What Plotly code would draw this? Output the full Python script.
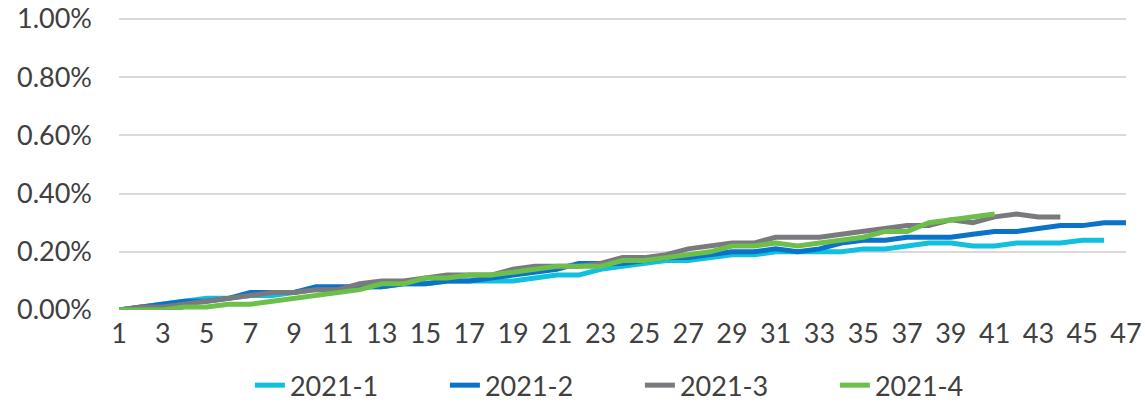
import plotly.graph_objects as go

weeks = list(range(1, 48))

s2021_1 = [0, 0.01, 0.02, 0.03, 0.04, 0.04, 0.05, 0.05, 0.06, 0.07, 0.07, 0.08, 0.08, 0.09, 0.09,
           0.10, 0.10, 0.10, 0.10, 0.11, 0.12, 0.12, 0.14, 0.15, 0.16, 0.17, 0.17, 0.18, 0.19, 0.19,
           0.20, 0.20, 0.20, 0.20, 0.21, 0.21, 0.22, 0.23, 0.23, 0.22, 0.22, 0.23, 0.23, 0.23, 0.24, 0.24]
s2021_2 = [0, 0.01, 0.02, 0.03, 0.03, 0.04, 0.06, 0.06, 0.06, 0.08, 0.08, 0.08, 0.08, 0.09, 0.09,
           0.10, 0.10, 0.11, 0.12, 0.13, 0.14, 0.16, 0.16, 0.16, 0.17, 0.18, 0.18, 0.19, 0.20, 0.20,
           0.21, 0.20, 0.21, 0.23, 0.24, 0.24, 0.25, 0.25, 0.25, 0.26, 0.27, 0.27, 0.28, 0.29, 0.29,
           0.30, 0.30]
s2021_3 = [0, 0.01, 0.01, 0.02, 0.03, 0.04, 0.05, 0.06, 0.06, 0.07, 0.07, 0.09, 0.10, 0.10, 0.11,
           0.12, 0.12, 0.12, 0.14, 0.15, 0.15, 0.15, 0.16, 0.18, 0.18, 0.19, 0.21, 0.22, 0.23, 0.23,
           0.25, 0.25, 0.25, 0.26, 0.27, 0.28, 0.29, 0.29, 0.31, 0.30, 0.32, 0.33, 0.32, 0.32]
s2021_4 = [0, 0, 0, 0.01, 0.01, 0.02, 0.02, 0.03, 0.04, 0.05, 0.06, 0.07, 0.09, 0.09, 0.11,
           0.11, 0.12, 0.12, 0.13, 0.14, 0.15, 0.15, 0.15, 0.17, 0.17, 0.18, 0.19, 0.20, 0.22, 0.22,
           0.23, 0.22, 0.23, 0.24, 0.25, 0.27, 0.27, 0.30, 0.31, 0.32, 0.33]

series_names = ["2021-1", "2021-2", "2021-3", "2021-4"]
series_values = [s2021_1, s2021_2, s2021_3, s2021_4]
colors = ["#11C0DC", "#0A72C8", "#7A7A7E", "#6CC04A"]

y_ticks = [0, 0.002, 0.004, 0.006, 0.008, 0.010]
y_tick_labels = ["0.00%", "0.20%", "0.40%", "0.60%", "0.80%", "1.00%"]
x_ticks = list(range(1, 48, 2))

fig = go.Figure()
for name, vals, col in zip(series_names, series_values, colors):
    fig.add_trace(go.Scatter(
        x=weeks[:len(vals)], y=[v / 100 for v in vals], name=name, mode="lines",
        line=dict(color=col, width=5), cliponaxis=False,
    ))

font_family = "Lato, 'Open Sans', sans-serif"
fig.update_layout(
    width=1145, height=408,
    margin=dict(l=119, r=19, t=18, b=98, autoexpand=False),
    paper_bgcolor="white", plot_bgcolor="white",
    font=dict(family=font_family, size=27, color="#404040"),
    showlegend=True,
    legend=dict(orientation="h", x=0.13, xanchor="left", y=-0.175, yanchor="top",
                font=dict(size=27, color="#404040"), entrywidth=150, entrywidthmode="pixels",
                tracegroupgap=0),
    xaxis=dict(range=[1, 47], tickmode="array", tickvals=x_ticks,
               showgrid=False, zeroline=False, showline=False, ticks="", automargin=False,
               ticklabeloverflow="allow",
               tickfont=dict(size=27, color="#404040"), ticklabelstandoff=5),
    yaxis=dict(range=[0, 0.010035], tickmode="array", tickvals=y_ticks, ticktext=y_tick_labels,
               showgrid=True, gridcolor="#D9D9D9", gridwidth=1.5, zeroline=False, showline=False,
               ticks="", automargin=False, ticklabelstandoff=26, ticklabeloverflow="allow",
               tickfont=dict(size=27, color="#404040")),
)

fig.write_html(
    "out.html",
    config={"displayModeBar": False},
    post_script="document.body.style.margin='0';document.body.style.overflow='hidden';",
)
